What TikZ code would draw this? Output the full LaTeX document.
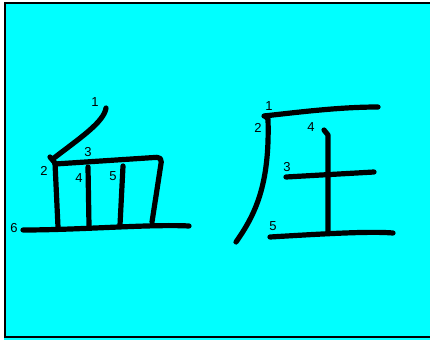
\documentclass[tikz,border=0pt]{standalone}
\usepackage{fontspec}
\setmainfont{Liberation Sans}
\definecolor{bgcyan}{RGB}{0,255,255}
\begin{document}
\begin{tikzpicture}[x=1pt,y=-1pt,
  stroke/.style={line width=5.2pt,line cap=round,line join=round},
  num/.style={inner sep=0pt,font=\fontsize{13}{15}\selectfont}]
\useasboundingbox (0,0) rectangle (430,340);
\fill[bgcyan] (4,1.5) rectangle (431,340);
\draw[line width=2pt] (432,2.5) -- (5,2.5) -- (5,337.3) -- (432,337.3);
% 血
\draw[stroke] (106,108) .. controls (104,122) and (80,138) .. (54,158);
\draw[stroke] (50,157) -- (55,163) -- (58,227);
\draw[stroke,rounded corners=5pt] (55,164) -- (162,157) -- (152,222);
\draw[stroke] (88,167) -- (89,226);
\draw[stroke] (123,166) -- (120,225);
\draw[stroke] (23,230) .. controls (80,230) and (150,224) .. (189,226);
\node[num] (a1) at (95,102) {1};
\node[num] (a2) at (44,171) {2};
\node[num] (a3) at (88,152) {3};
\node[num] (a4) at (79,178) {4};
\node[num] (a5) at (113,176) {5};
\node[num] (a6) at (14,228) {6};
% 压
\draw[stroke] (264,116) .. controls (300,112) and (340,107) .. (378,107);
\draw[stroke] (265,116) -- (268,119) .. controls (270,185) and (255,215) .. (236,242);
\draw[stroke] (286,177) -- (374,172);
\draw[stroke] (324,130) -- (328,135) -- (328,233);
\draw[stroke] (270,237) .. controls (320,234) and (370,231) .. (393,233);
\node[num] (b1) at (269,106) {1};
\node[num] (b2) at (258,128) {2};
\node[num] (b3) at (287,167) {3};
\node[num] (b4) at (311,127) {4};
\node[num] (b5) at (273,226) {5};
\end{tikzpicture}
\end{document}
